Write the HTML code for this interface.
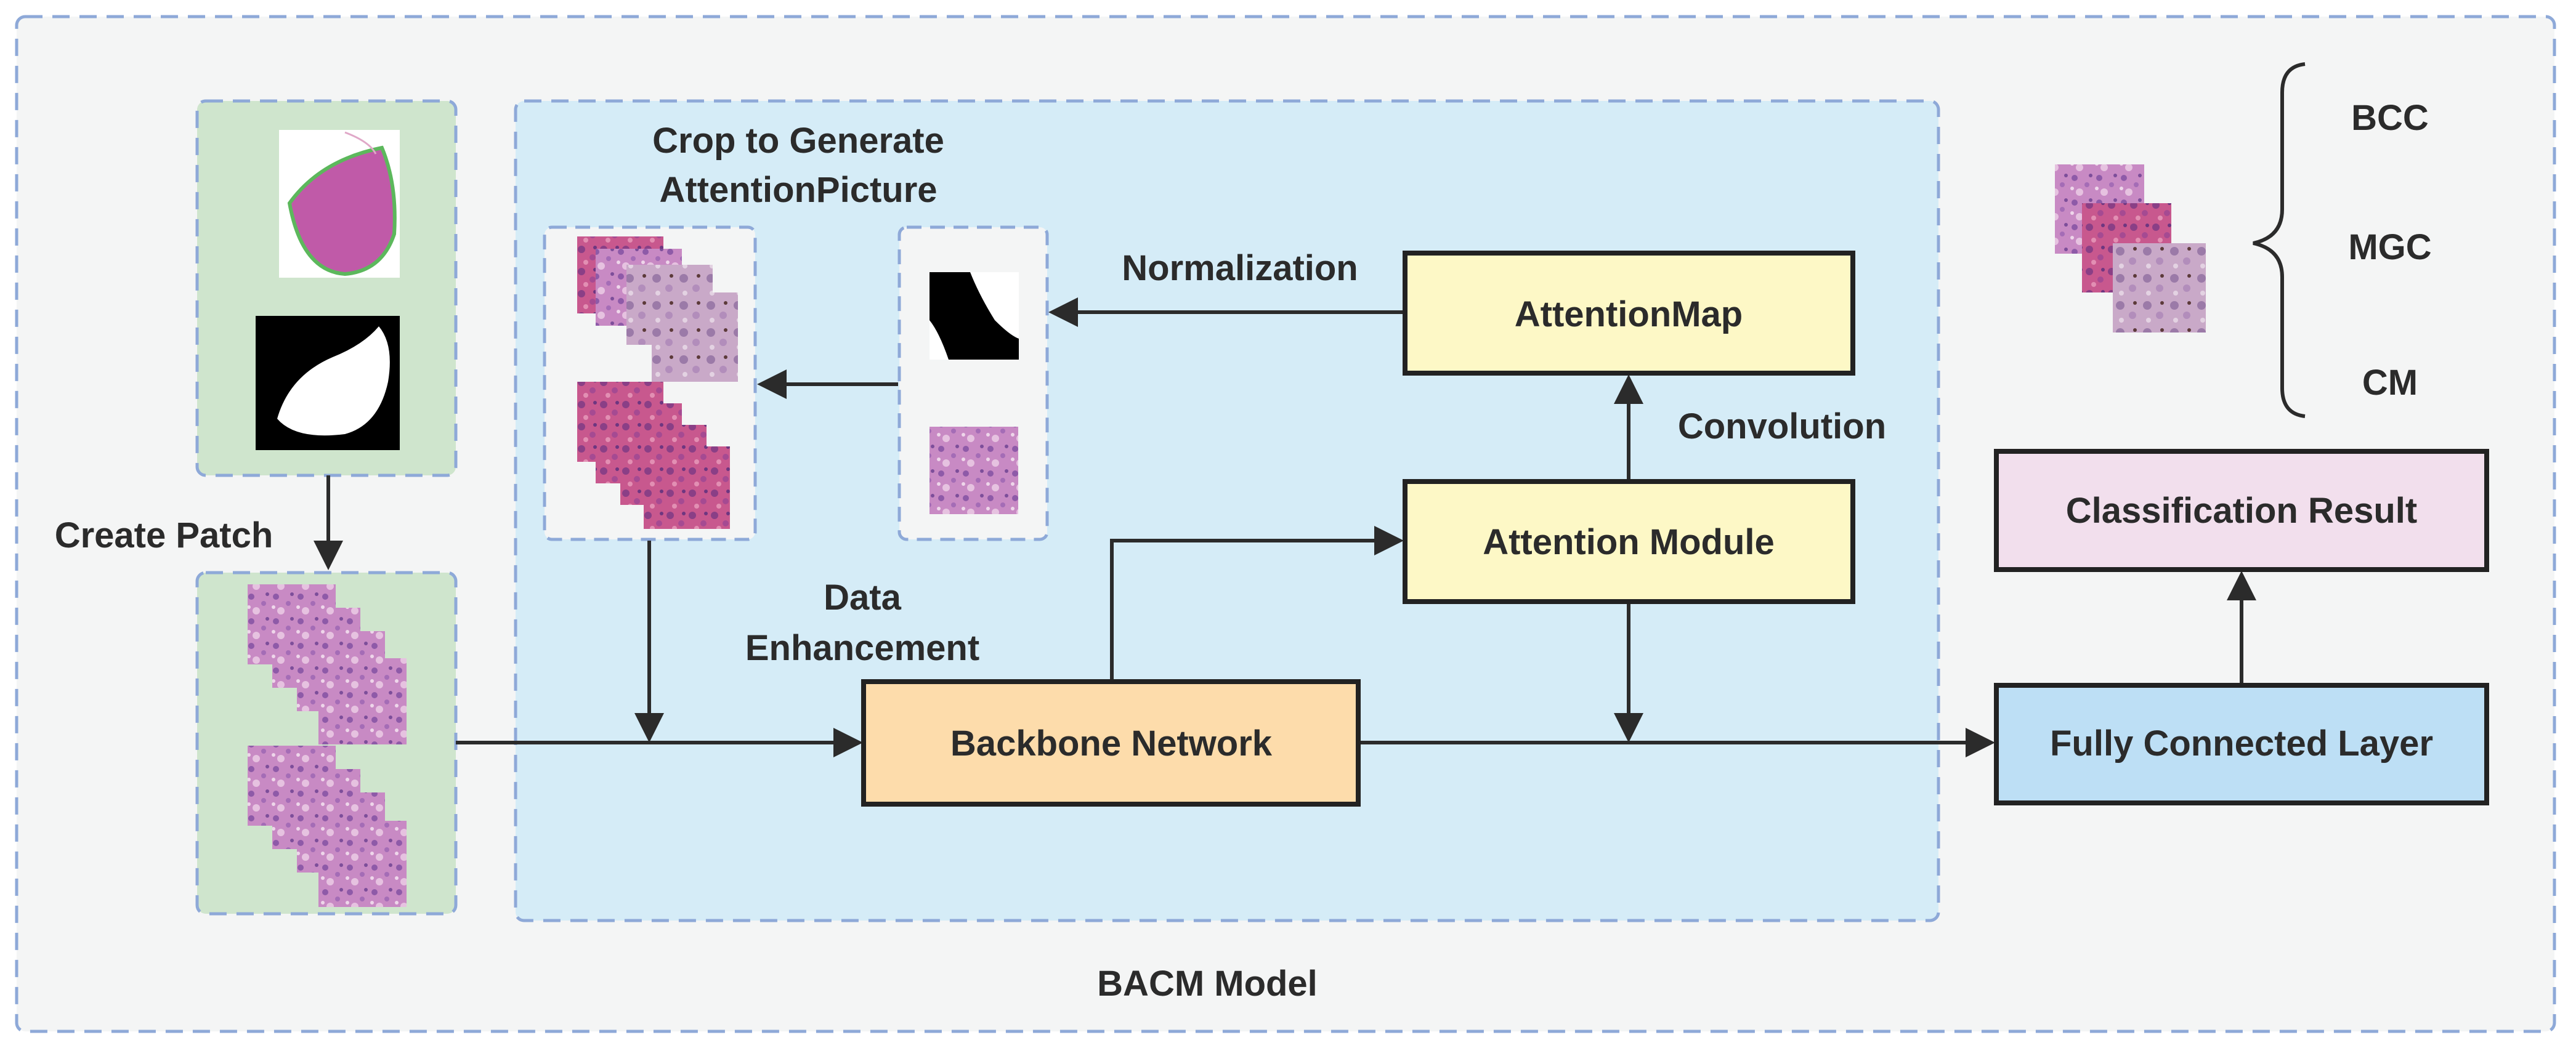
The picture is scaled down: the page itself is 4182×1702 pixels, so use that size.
<!DOCTYPE html>
<html><head><meta charset="utf-8"><style>
html,body{margin:0;padding:0;background:#fff}
svg{display:block}
text{font-family:"Liberation Sans",Arial,sans-serif;font-weight:bold;fill:#2b2b2b}
</style></head><body>
<svg width="4182" height="1702" viewBox="0 0 4182 1702" xmlns="http://www.w3.org/2000/svg">
<defs>
<pattern id="tis" width="40" height="40" patternUnits="userSpaceOnUse">
<rect width="40" height="40" fill="#c88ac4"/>
<circle cx="8" cy="9" r="5" fill="#8e5aa8"/><circle cx="28" cy="20" r="4" fill="#a46cb6"/>
<circle cx="16" cy="32" r="6" fill="#e6c2e0"/><circle cx="34" cy="5" r="3" fill="#7d4e9a"/>
<circle cx="4" cy="26" r="3" fill="#eed6ea"/>
</pattern>
<pattern id="tis2" width="36" height="36" patternUnits="userSpaceOnUse">
<rect width="36" height="36" fill="#c8588e"/>
<circle cx="8" cy="9" r="6" fill="#8a3f86"/><circle cx="26" cy="22" r="5" fill="#a54a92"/>
<circle cx="15" cy="30" r="4" fill="#e28fb3"/><circle cx="30" cy="6" r="3" fill="#6e3680"/>
</pattern>
<pattern id="tis3" width="44" height="44" patternUnits="userSpaceOnUse">
<rect width="44" height="44" fill="#c9a9c8"/>
<circle cx="10" cy="12" r="7" fill="#9b7aa8"/><circle cx="30" cy="28" r="6" fill="#b28dbb"/>
<circle cx="34" cy="8" r="3" fill="#5c3a3a"/><circle cx="12" cy="36" r="4" fill="#e3d2e2"/>
</pattern>
<marker id="ah" markerWidth="8" markerHeight="8" refX="7" refY="4" orient="auto" markerUnits="strokeWidth">
<path d="M0,0 L8,4 L0,8 z" fill="#2b2b2b"/></marker>
</defs>

<rect x="27" y="27" width="4120" height="1648" rx="14" fill="#f4f5f5" stroke="#8ea9d8" stroke-width="5" stroke-dasharray="28,16"/>

<rect x="320" y="164" width="420" height="608" rx="14" fill="#cfe5cd" stroke="#8ea9d8" stroke-width="5" stroke-dasharray="28,16"/>
<rect x="320" y="930" width="420" height="554" rx="14" fill="#cfe5cd" stroke="#8ea9d8" stroke-width="5" stroke-dasharray="28,16"/>
<rect x="837" y="164" width="2310" height="1331" rx="14" fill="#d5ecf7" stroke="#8ea9d8" stroke-width="5" stroke-dasharray="28,16"/>
<rect x="884" y="369" width="342" height="507" rx="12" fill="#f4f5f5" stroke="#8ea9d8" stroke-width="5" stroke-dasharray="24,14"/>
<rect x="1460" y="369" width="240" height="507" rx="12" fill="#f4f5f5" stroke="#8ea9d8" stroke-width="5" stroke-dasharray="24,14"/>

<rect x="453" y="211" width="196" height="240" fill="#fff"/>
<path d="M470,330 Q520,260 620,240 Q645,300 640,380 Q620,440 560,445 Q490,440 470,330 Z" fill="#c05aa8" stroke="#5cb85c" stroke-width="6"/>
<path d="M560,215 Q600,230 610,250" fill="none" stroke="#e0a8c8" stroke-width="3"/>
<rect x="415" y="513" width="234" height="218" fill="#000"/>
<path d="M450,680 Q470,610 540,580 Q590,560 615,530 Q640,560 630,620 Q615,690 560,705 Q480,715 450,680 Z" fill="#fff"/>

<g>
<rect x="402" y="949" width="143" height="130" fill="url(#tis)"/>
<rect x="442" y="987" width="143" height="130" fill="url(#tis)"/>
<rect x="482" y="1025" width="143" height="130" fill="url(#tis)"/>
<rect x="517" y="1069" width="143" height="140" fill="url(#tis)"/>
<rect x="402" y="1211" width="143" height="130" fill="url(#tis)"/>
<rect x="442" y="1249" width="143" height="130" fill="url(#tis)"/>
<rect x="482" y="1287" width="143" height="130" fill="url(#tis)"/>
<rect x="517" y="1333" width="143" height="140" fill="url(#tis)"/>
</g>
<rect x="937" y="384" width="140" height="125" fill="url(#tis2)"/>
<rect x="967" y="404" width="140" height="125" fill="url(#tis)"/>
<rect x="1017" y="430" width="140" height="130" fill="url(#tis3)"/>
<rect x="1058" y="475" width="140" height="145" fill="url(#tis3)"/>
<rect x="937" y="620" width="140" height="130" fill="url(#tis2)"/>
<rect x="967" y="655" width="140" height="130" fill="url(#tis2)"/>
<rect x="1007" y="690" width="140" height="130" fill="url(#tis2)"/>
<rect x="1045" y="725" width="140" height="134" fill="url(#tis2)"/>
<rect x="1509" y="442" width="145" height="142" fill="#fff"/>
<path d="M1509,442 L1575,442 Q1590,480 1615,520 Q1640,545 1654,550 L1654,584 L1540,584 Q1525,540 1509,520 Z" fill="#000"/>
<rect x="1509" y="693" width="144" height="142" fill="url(#tis)"/>

<rect x="3336" y="267" width="145" height="145" fill="url(#tis)"/>
<rect x="3380" y="330" width="145" height="145" fill="url(#tis2)"/>
<rect x="3430" y="395" width="151" height="145" fill="url(#tis3)"/>

<path d="M3742,104 Q3705,108 3705,150 L3705,340 Q3705,385 3658,395 Q3705,405 3705,450 L3705,630 Q3705,672 3742,676" fill="none" stroke="#2b2b2b" stroke-width="6"/>

<g stroke="#2b2b2b" stroke-width="6" fill="none">
<line x1="533" y1="772" x2="533" y2="920" marker-end="url(#ah)"/>
<line x1="740" y1="1206" x2="1395" y2="1206" marker-end="url(#ah)"/>
<line x1="1054" y1="878" x2="1054" y2="1200" marker-end="url(#ah)"/>
<line x1="1458" y1="624" x2="1235" y2="624" marker-end="url(#ah)"/>
<line x1="2281" y1="507" x2="1708" y2="507" marker-end="url(#ah)"/>
<polyline points="1805,1107 1805,878 2273,878" marker-end="url(#ah)"/>
<line x1="2644" y1="782" x2="2644" y2="614" marker-end="url(#ah)"/>
<line x1="2644" y1="977" x2="2644" y2="1200" marker-end="url(#ah)"/>
<line x1="2205" y1="1206" x2="3233" y2="1206" marker-end="url(#ah)"/>
<line x1="3639" y1="1113" x2="3639" y2="933" marker-end="url(#ah)"/>
</g>

<g stroke="#222" stroke-width="8">
<rect x="2281" y="411" width="727" height="195" fill="#fdf8c6"/>
<rect x="2281" y="782" width="727" height="195" fill="#fdf8c6"/>
<rect x="1402" y="1107" width="803" height="199" fill="#fddcab"/>
<rect x="3241" y="1113" width="796" height="191" fill="#bddff5"/>
<rect x="3241" y="733" width="796" height="192" fill="#f2dfed"/>
</g>

<g font-size="58" text-anchor="middle">
<text x="2644" y="530">AttentionMap</text>
<text x="2644" y="900">Attention Module</text>
<text x="1804" y="1227">Backbone Network</text>
<text x="3639" y="1227">Fully Connected Layer</text>
<text x="3639" y="849">Classification Result</text>
<text x="1296" y="248">Crop to Generate</text>
<text x="1296" y="328">AttentionPicture</text>
<text x="1400" y="990">Data</text>
<text x="1400" y="1072">Enhancement</text>
<text x="2893" y="712">Convolution</text>
<text x="2013" y="455">Normalization</text>
<text x="1960" y="1617">BACM Model</text>
<text x="3880" y="211">BCC</text>
<text x="3880" y="421">MGC</text>
<text x="3880" y="641">CM</text>
<text x="266" y="889">Create Patch</text>
</g>
</svg>
</body></html>
